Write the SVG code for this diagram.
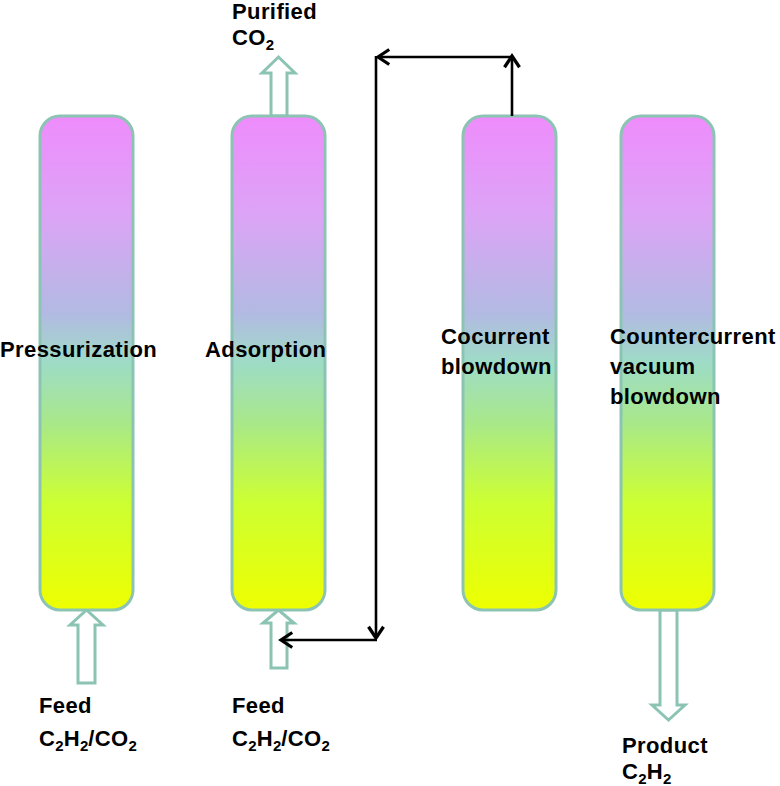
<svg xmlns="http://www.w3.org/2000/svg" width="780" height="786" viewBox="0 0 780 786">
<defs>
<linearGradient id="colgrad" x1="0" y1="0" x2="0" y2="1">
<stop offset="0" stop-color="#ee8cfc"/>
<stop offset="0.2" stop-color="#dca4f6"/>
<stop offset="0.4" stop-color="#b2bae2"/>
<stop offset="0.5" stop-color="#9edcc6"/>
<stop offset="0.62" stop-color="#a8e88a"/>
<stop offset="0.78" stop-color="#ccff33"/>
<stop offset="1" stop-color="#eeff00"/>
</linearGradient>
<marker id="ah" markerUnits="userSpaceOnUse" markerWidth="20" markerHeight="20" viewBox="-12 -8 14 16" refX="0" refY="0" orient="auto">
<path d="M-9,-6 L0,0 L-9,6" fill="none" stroke="#000" stroke-width="2.6" stroke-linejoin="miter"/>
</marker>
</defs>
<style>
.col{fill:url(#colgrad);stroke:#8cc4b4;stroke-width:3}
.hollow{fill:#fff;stroke:#8cc4b4;stroke-width:3;stroke-linejoin:miter}
.lbl{font-family:"Liberation Sans",Arial,sans-serif;font-weight:bold;font-size:22px;letter-spacing:0.4px;fill:#000}
.sub{font-size:15px;letter-spacing:0}
.conn{stroke:#000;stroke-width:2.6;fill:none}
</style>

<g id="arrow-purified"><polygon class="hollow" points="271,116 271,73 262,73 278.5,57 295,73 287,73 287,116"/></g>
<g id="arrow-feed1"><polygon class="hollow" points="78,683 78,625 70,625 86.5,610 103,625 95,625 95,683"/></g>
<g id="arrow-feed2"><polygon class="hollow" points="271,668 271,623 263,623 278.5,610 294,623 287,623 287,668"/></g>
<g id="arrow-product"><polygon class="hollow" points="660,610 660,705 652,705 668.5,720 685,705 677,705 677,610"/></g>

<g id="col-pressurization"><rect class="col" x="40" y="116" width="93" height="494" rx="20"/></g>
<g id="col-adsorption"><rect class="col" x="232" y="116" width="93" height="494" rx="20"/></g>
<g id="col-cocurrent"><rect class="col" x="463" y="116" width="93" height="494" rx="20"/></g>
<g id="col-countercurrent"><rect class="col" x="621" y="116" width="93" height="494" rx="20"/></g>

<g id="connectors">
<line class="conn" x1="512" y1="116" x2="512" y2="56" marker-end="url(#ah)"/>
<line class="conn" x1="512" y1="57" x2="378" y2="57" marker-end="url(#ah)"/>
<line class="conn" x1="376" y1="56" x2="376" y2="638" marker-end="url(#ah)"/>
<line class="conn" x1="377" y1="640" x2="281" y2="640" marker-end="url(#ah)"/>
</g>

<g id="labels">
<text class="lbl" x="0" y="357">Pressurization</text>
<text class="lbl" x="205" y="357">Adsorption</text>
<text class="lbl" x="441" y="344">Cocurrent</text>
<text class="lbl" x="441" y="374">blowdown</text>
<text class="lbl" x="610" y="344">Countercurrent</text>
<text class="lbl" x="610" y="374">vacuum</text>
<text class="lbl" x="610" y="404">blowdown</text>
<text class="lbl" x="232" y="19">Purified</text>
<text class="lbl" x="232" y="45">CO<tspan class="sub" dy="5">2</tspan></text>
<text class="lbl" x="39" y="713">Feed</text>
<text class="lbl" x="39" y="746">C<tspan class="sub" dy="5">2</tspan><tspan dy="-5">H</tspan><tspan class="sub" dy="5">2</tspan><tspan dy="-5">/CO</tspan><tspan class="sub" dy="5">2</tspan></text>
<text class="lbl" x="232" y="713">Feed</text>
<text class="lbl" x="232" y="746">C<tspan class="sub" dy="5">2</tspan><tspan dy="-5">H</tspan><tspan class="sub" dy="5">2</tspan><tspan dy="-5">/CO</tspan><tspan class="sub" dy="5">2</tspan></text>
<text class="lbl" x="622" y="753">Product</text>
<text class="lbl" x="622" y="779">C<tspan class="sub" dy="5">2</tspan><tspan dy="-5">H</tspan><tspan class="sub" dy="5">2</tspan></text>
</g>
</svg>
